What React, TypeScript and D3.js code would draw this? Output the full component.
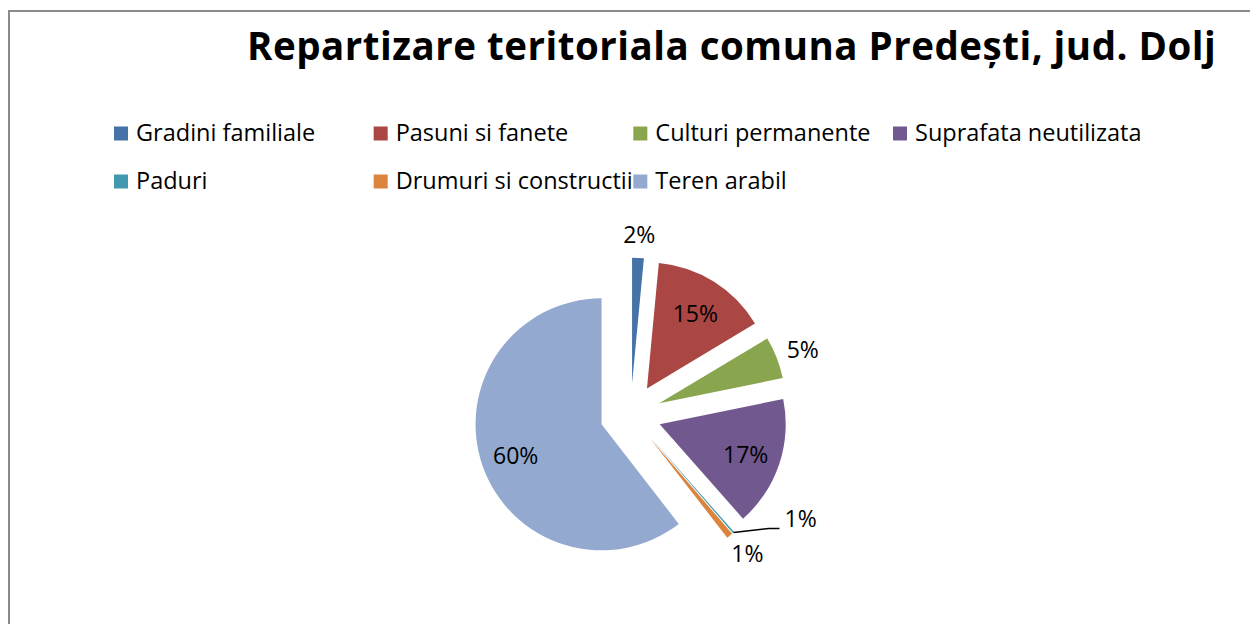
import React from "react";
import * as d3 from "d3";

const categories = [
  "Gradini familiale",
  "Pasuni si fanete",
  "Culturi permanente",
  "Suprafata neutilizata",
  "Paduri",
  "Drumuri si constructii",
  "Teren arabil",
];
const values = [1.5, 14.9, 5.4, 16.7, 0.2, 0.8, 60.5];
const percentLabels = ["2%", "15%", "5%", "17%", "1%", "1%", "60%"];
const colors = ["#4572A7", "#AA4643", "#89A54E", "#71588F", "#4198AF", "#DB843D", "#93A9CF"];
const insideLabel = [false, true, false, true, false, false, true];
const title = "Repartizare teritoriala comuna Predești, jud. Dolj";

const W = 1250;
const H = 624;
const cx = 630.6;
const cy = 414.4;
const R = 126;
const explode = 30.7;
const FONT = "'Open Sans', Lato, sans-serif";
const LABEL_FS = 23;
const LEGEND_FS = 23.5;

export default function App() {
  const pie = d3
    .pie<number>()
    .sort(null)
    .value((d) => d)
    .startAngle(0)
    .endAngle(2 * Math.PI);
  const arcs = pie(values);
  const arc = d3.arc<d3.PieArcDatum<number>>().innerRadius(0).outerRadius(R);

  const legendX = d3.scaleLinear().domain([0, 3]).range([114, 893]);
  const legendRows = [141, 189];
  const base = LABEL_FS * 0.36;

  return (
    <svg
      width={W}
      height={H}
      style={{ position: "absolute", left: 0, top: 0, background: "#fff" }}
      fontFamily={FONT}
    >
      <rect x={0} y={0} width={W} height={H} fill="#fff" />
      <rect x={9} y={11} width={W + 20} height={H + 20} fill="none" stroke="#8a8a8a" strokeWidth={2} />
      <text x={247} y={60} fontSize={38.5} letterSpacing={0.5} fontWeight={700} fill="#000">
        {title}
      </text>
      {categories.map((c, i) => {
        const col = i % 4;
        const row = Math.floor(i / 4);
        const x = legendX(col);
        const y = legendRows[row];
        return (
          <g key={c}>
            <rect x={x} y={y - 14.5} width={14} height={14} fill={colors[i]} />
            <text x={x + 22} y={y} fontSize={LEGEND_FS} fill="#000">
              {c}
            </text>
          </g>
        );
      })}
      {arcs.map((a, i) => {
        const mid = (a.startAngle + a.endAngle) / 2;
        const sx = Math.sin(mid);
        const sy = -Math.cos(mid);
        const vx = cx + explode * sx;
        const vy = cy + explode * sy;
        return (
          <path key={i} d={arc(a) || ""} transform={`translate(${vx},${vy})`} fill={colors[i]} />
        );
      })}
      {arcs.map((a, i) => {
        const mid = (a.startAngle + a.endAngle) / 2;
        const sx = Math.sin(mid);
        const sy = -Math.cos(mid);
        const vx = cx + explode * sx;
        const vy = cy + explode * sy;
        const label = percentLabels[i];
        if (insideLabel[i]) {
          const lr = R * 0.72;
          return (
            <text
              key={"l" + i}
              x={vx + lr * sx}
              y={vy + lr * sy + base + 2}
              fontSize={LABEL_FS}
              textAnchor="middle"
              fill="#000"
            >
              {label}
            </text>
          );
        }
        if (categories[i] === "Paduri") {
          const ax = vx + R * sx;
          const ay = vy + R * sy;
          return (
            <g key={"l" + i}>
              <path
                d={`M${ax},${ay}L${ax + 35},${ay - 4}L${ax + 46},${ay - 4}`}
                fill="none"
                stroke="#000"
                strokeWidth={1.5}
              />
              <text x={ax + 51} y={ay - 6} fontSize={LABEL_FS} fill="#000">
                {label}
              </text>
            </g>
          );
        }
        const ar = R + 13;
        const bw = 30;
        const bh = 20;
        return (
          <text
            key={"l" + i}
            x={vx + ar * sx + (bw / 2) * sx}
            y={vy + ar * sy + (bh / 2) * sy + base}
            fontSize={LABEL_FS}
            textAnchor="middle"
            fill="#000"
          >
            {label}
          </text>
        );
      })}
    </svg>
  );
}
